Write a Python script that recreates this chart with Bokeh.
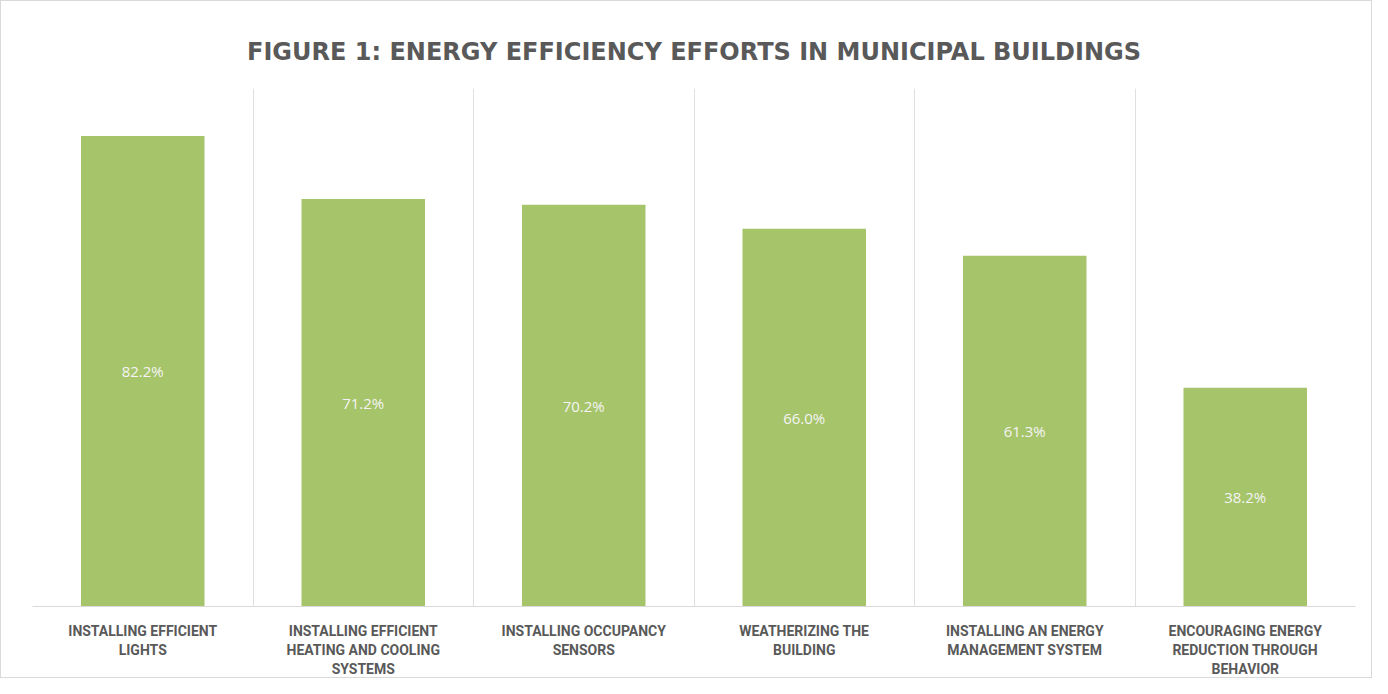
from bokeh.plotting import figure
from bokeh.models import ColumnDataSource, FixedTicker, Range1d, LabelSet
from bokeh.core.properties import value
from bokeh.embed import file_html
from bokeh.resources import INLINE

categories = [
    "INSTALLING EFFICIENT\nLIGHTS",
    "INSTALLING EFFICIENT\nHEATING AND COOLING\nSYSTEMS",
    "INSTALLING OCCUPANCY\nSENSORS",
    "WEATHERIZING THE\nBUILDING",
    "INSTALLING AN ENERGY\nMANAGEMENT SYSTEM",
    "ENCOURAGING ENERGY\nREDUCTION THROUGH\nBEHAVIOR",
]
values = [82.2, 71.2, 70.2, 66.0, 61.3, 38.2]
value_labels = ["82.2%", "71.2%", "70.2%", "66.0%", "61.3%", "38.2%"]

n = len(categories)
xs = [i + 0.5 for i in range(n)]
src = ColumnDataSource(dict(x=xs, top=values, mid=[v / 2 for v in values], lab=value_labels))

p = figure(width=1372, height=678, output_backend="svg", toolbar_location=None,
           x_range=Range1d(0, n), y_range=Range1d(0, 90.5),
           min_border_left=31, min_border_right=18, min_border_top=87, min_border_bottom=73)
p.title.text = "FIGURE 1: ENERGY EFFICIENCY EFFORTS IN MUNICIPAL BUILDINGS"
p.title.align = "center"
p.title.text_font = "DejaVu Sans"
p.title.text_font_size = "24px"
p.title.text_font_style = "bold"
p.title.text_color = "#595959"
p.title.standoff = 45
p.title.offset = 0

p.vbar(x="x", top="top", width=0.56, bottom=0, source=src, color="#a6c46a", line_color=None)

labels = LabelSet(x="x", y="mid", text="lab", source=src, text_align="center",
                  text_baseline="middle", text_color="#f4f4f4", text_font_size="15px",
                  text_font=value("Open Sans"))
p.add_layout(labels)

p.yaxis.visible = False
p.ygrid.visible = False
p.xgrid.ticker = FixedTicker(ticks=list(range(n + 1)))
p.xgrid.grid_line_color = "#e0e0e0"
p.xaxis.ticker = FixedTicker(ticks=xs)
p.xaxis.major_label_overrides = {x: c for x, c in zip(xs, categories)}
p.xaxis.major_tick_line_color = None
p.xaxis.major_tick_out = 0
p.xaxis.major_tick_in = 0
p.xaxis.minor_tick_line_color = None
p.xaxis.axis_line_color = "#d9d9d9"
p.xaxis.major_label_text_font = "Roboto"
p.xaxis.major_label_text_font_style = "bold"
p.xaxis.major_label_text_font_size = "14px"
p.xaxis.major_label_text_color = "#595959"
p.xaxis.major_label_standoff = 16
p.outline_line_color = None
p.styles = {"border": "1px solid #d9d9d9", "box-sizing": "border-box"}

open("out.html", "w").write(file_html(p, INLINE))
